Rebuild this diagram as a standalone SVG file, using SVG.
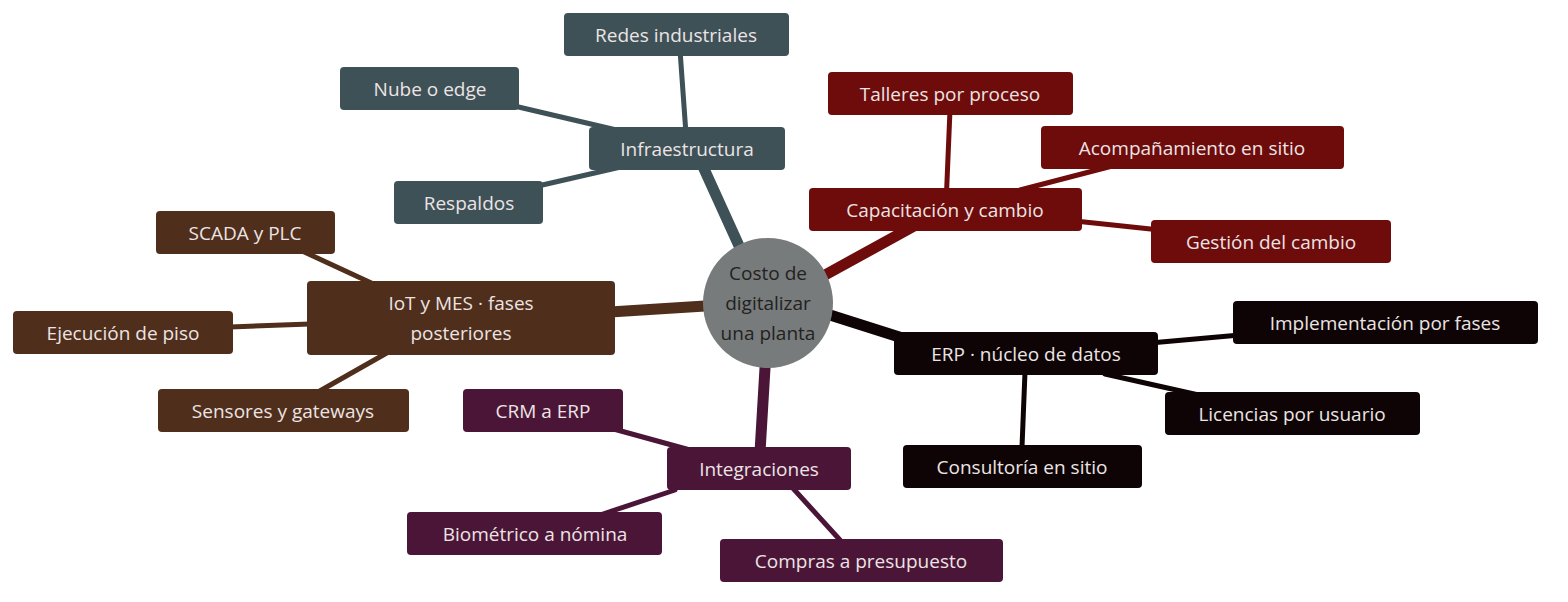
<svg xmlns="http://www.w3.org/2000/svg" width="1568" height="602" viewBox="0 0 1568 602">
<style>
text{font-family:"Open Sans","Noto Sans",sans-serif;font-size:19px;fill:#ece4e4;text-anchor:middle;dominant-baseline:central}
.inf{fill:#3e5157}.cap{fill:#6e0b0b}.iot{fill:#4f2e1b}.erp{fill:#0e0405}.int{fill:#4b1537}
.li{stroke:#3e5157}.lc{stroke:#6e0b0b}.lo{stroke:#4f2e1b}.le{stroke:#0e0405}.lt{stroke:#4b1537}
line{stroke-linecap:round}
.m{stroke-width:11}.l{stroke-width:5}
</style>
<rect width="1568" height="602" fill="#fff"/>
<g id="connectors">
<line class="li m" x1="740" y1="248" x2="700" y2="160"/>
<line class="li l" x1="687" y1="148" x2="680" y2="50"/>
<line class="li l" x1="510" y1="105" x2="625" y2="132"/>
<line class="li l" x1="538" y1="186" x2="625" y2="166"/>
<line class="lc m" x1="825" y1="275" x2="925" y2="220"/>
<line class="lc l" x1="946" y1="205" x2="950" y2="110"/>
<line class="lc l" x1="1020" y1="190" x2="1120" y2="164"/>
<line class="lc l" x1="1075" y1="221" x2="1160" y2="230"/>
<line class="lo m" x1="705" y1="306" x2="610" y2="312"/>
<line class="lo l" x1="380" y1="287" x2="300" y2="250"/>
<line class="lo l" x1="310" y1="324" x2="230" y2="327"/>
<line class="lo l" x1="392" y1="350" x2="318" y2="392"/>
<line class="le m" x1="830" y1="315" x2="915" y2="342"/>
<line class="le l" x1="1150" y1="343" x2="1240" y2="335"/>
<line class="le l" x1="1105" y1="374" x2="1212" y2="398"/>
<line class="le l" x1="1025" y1="372" x2="1022" y2="447"/>
<line class="lt m" x1="765" y1="368" x2="760" y2="452"/>
<line class="lt l" x1="690" y1="450" x2="610" y2="428"/>
<line class="lt l" x1="675" y1="490" x2="600" y2="515"/>
<line class="lt l" x1="790" y1="485" x2="840" y2="540"/>
</g>
<g id="center"><circle cx="768" cy="303" r="65" fill="#787b7b"/>
<text x="768" y="273" style="fill:#222">Costo de</text><text x="768" y="303" style="fill:#222">digitalizar</text><text x="768" y="333" style="fill:#222">una planta</text></g>
<g id="infra"><rect class="inf" x="589" y="127" width="196" height="43" rx="4"/><text x="687" y="149">Infraestructura</text></g>
<g id="redes"><rect class="inf" x="564" y="13" width="225" height="43" rx="4"/><text x="676" y="35">Redes industriales</text></g>
<g id="nube"><rect class="inf" x="340" y="67" width="179" height="43" rx="4"/><text x="430" y="89">Nube o edge</text></g>
<g id="respaldos"><rect class="inf" x="394" y="181" width="149" height="43" rx="4"/><text x="469" y="203">Respaldos</text></g>
<g id="cap"><rect class="cap" x="809" y="188" width="273" height="43" rx="4"/><text x="945" y="210">Capacitación y cambio</text></g>
<g id="talleres"><rect class="cap" x="828" y="72" width="245" height="43" rx="4"/><text x="950" y="94">Talleres por proceso</text></g>
<g id="acomp"><rect class="cap" x="1041" y="126" width="303" height="43" rx="4"/><text x="1192" y="148">Acompañamiento en sitio</text></g>
<g id="gestion"><rect class="cap" x="1151" y="220" width="240" height="43" rx="4"/><text x="1271" y="242">Gestión del cambio</text></g>
<g id="iot"><rect class="iot" x="307" y="281" width="308" height="74" rx="4"/><text x="461" y="303">IoT y MES · fases</text><text x="461" y="333">posteriores</text></g>
<g id="scada"><rect class="iot" x="156" y="211" width="179" height="43" rx="4"/><text x="245" y="233">SCADA y PLC</text></g>
<g id="ejec"><rect class="iot" x="13" y="311" width="220" height="43" rx="4"/><text x="123" y="333">Ejecución de piso</text></g>
<g id="sensores"><rect class="iot" x="158" y="389" width="251" height="43" rx="4"/><text x="283" y="411">Sensores y gateways</text></g>
<g id="erp"><rect class="erp" x="894" y="332" width="264" height="43" rx="4"/><text x="1026" y="354">ERP · núcleo de datos</text></g>
<g id="impl"><rect class="erp" x="1233" y="301" width="305" height="43" rx="4"/><text x="1385" y="323">Implementación por fases</text></g>
<g id="lic"><rect class="erp" x="1165" y="392" width="255" height="43" rx="4"/><text x="1292" y="414">Licencias por usuario</text></g>
<g id="consult"><rect class="erp" x="903" y="445" width="239" height="43" rx="4"/><text x="1022" y="467">Consultoría en sitio</text></g>
<g id="integ"><rect class="int" x="667" y="447" width="184" height="43" rx="4"/><text x="759" y="469">Integraciones</text></g>
<g id="crm"><rect class="int" x="463" y="389" width="160" height="43" rx="4"/><text x="543" y="411">CRM a ERP</text></g>
<g id="bio"><rect class="int" x="407" y="512" width="255" height="43" rx="4"/><text x="535" y="534">Biométrico a nómina</text></g>
<g id="compras"><rect class="int" x="720" y="539" width="283" height="43" rx="4"/><text x="861" y="561">Compras a presupuesto</text></g>
</svg>
